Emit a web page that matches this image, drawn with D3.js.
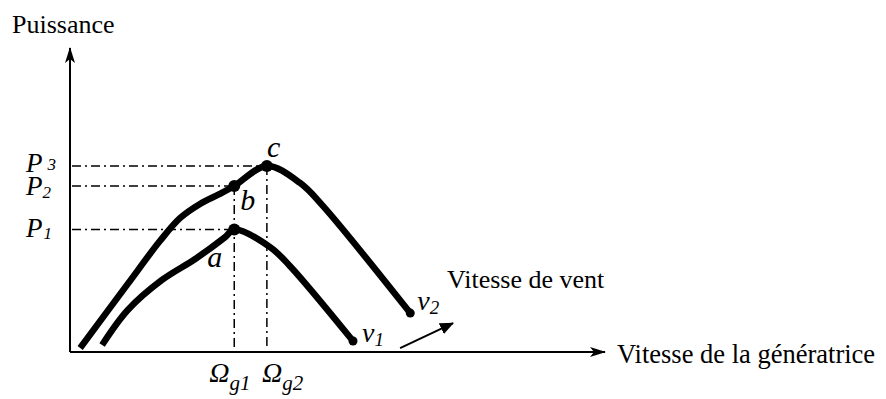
<!DOCTYPE html>
<html>
<head>
<meta charset="utf-8">
<script src="https://cdn.jsdelivr.net/npm/d3@7"></script>
<style>
  html, body { margin: 0; padding: 0; background: #fff; }
  svg { display: block; }
  text { font-family: "Liberation Serif", "Times New Roman", serif; fill: #000; }
  .it { font-style: italic; }
</style>
</head>
<body>
<svg id="chart" width="886" height="399"></svg>
<script>
// Generator speed (x) vs power (y), two wind speeds v1 < v2
const curveV2Speed = [0.19, 1.08, 1.68, 2.06, 2.43, 2.80, 3.07, 3.68, 4.30, 4.71, 6.36];
const curveV2Power = [0.13, 2.24, 3.65, 4.41, 4.87, 5.20, 5.46, 6.12, 5.56, 4.84, 1.28];
const curveV1Speed = [0.60, 1.08, 1.72, 2.34, 2.90, 3.07, 3.74, 4.11, 5.29];
const curveV1Power = [0.23, 1.38, 2.37, 3.06, 3.78, 4.03, 3.45, 2.83, 0.36];

// Operating points a, b, c
const pointNames = ["a", "b", "c"];
const pointSpeed = [3.07, 3.07, 3.68];
const pointPower = [4.03, 5.46, 6.12];

// Reference levels
const powerLevels = [4.03, 5.46, 6.12];      // P1, P2, P3
const powerLabelSub = ["1", "2", "3"];
const speedLevels = [3.07, 3.68];            // Ωg1, Ωg2
const speedLabelSub = ["g1", "g2"];

// Wind-speed arrow (from, to)
const windArrowSpeed = [6.17, 7.16];
const windArrowPower = [0.13, 0.95];

const svg = d3.select("#chart");
const x = d3.scaleLinear().domain([0, 10]).range([70, 605]);
const y = d3.scaleLinear().domain([0, 10]).range([352, 48]);

// Arrowheads
const defs = svg.append("defs");
defs.append("marker")
  .attr("id", "axisHead").attr("viewBox", "0 0 16 10")
  .attr("refX", 15).attr("refY", 5)
  .attr("markerWidth", 16).attr("markerHeight", 10)
  .attr("markerUnits", "userSpaceOnUse").attr("orient", "auto")
  .append("path").attr("d", "M0,0 L16,5 L0,10 L4,5 Z").attr("fill", "#000");
defs.append("marker")
  .attr("id", "windHead").attr("viewBox", "0 0 14 12")
  .attr("refX", 13).attr("refY", 6)
  .attr("markerWidth", 14).attr("markerHeight", 12)
  .attr("markerUnits", "userSpaceOnUse").attr("orient", "auto")
  .append("path").attr("d", "M0,0 L14,6 L0,12 Z").attr("fill", "#000");

// Axes
svg.append("line")
  .attr("x1", x(0)).attr("y1", y(0)).attr("x2", x(0)).attr("y2", y(10))
  .attr("stroke", "#000").attr("stroke-width", 2).attr("marker-end", "url(#axisHead)");
svg.append("line")
  .attr("x1", x(0)).attr("y1", y(0)).attr("x2", x(10)).attr("y2", y(0))
  .attr("stroke", "#000").attr("stroke-width", 2).attr("marker-end", "url(#axisHead)");

// Dash-dot guide lines
const dashDot = "9,4,2,4";
svg.selectAll("line.hguide").data(powerLevels).join("line")
  .attr("class", "hguide")
  .attr("x1", x(0) + 2).attr("x2", (d, i) => x(i === 2 ? pointSpeed[2] : pointSpeed[0]))
  .attr("y1", d => y(d)).attr("y2", d => y(d))
  .attr("stroke", "#000").attr("stroke-width", 1.5).attr("stroke-dasharray", dashDot);
svg.selectAll("line.vguide").data(speedLevels).join("line")
  .attr("class", "vguide")
  .attr("x1", d => x(d)).attr("x2", d => x(d))
  .attr("y1", (d, i) => y(i === 0 ? pointPower[1] : pointPower[2]))
  .attr("y2", (d, i) => i === 0 ? y(0) : y(0) - 5)
  .attr("stroke", "#000").attr("stroke-width", 1.5).attr("stroke-dasharray", dashDot);

// Power curves
const line = d3.line().x(d => x(d[0])).y(d => y(d[1])).curve(d3.curveCatmullRom.alpha(0.5));
const v2 = curveV2Speed.map((s, i) => [s, curveV2Power[i]]);
const v1 = curveV1Speed.map((s, i) => [s, curveV1Power[i]]);
[v2, v1].forEach(pts => {
  svg.append("path").attr("d", line(pts))
    .attr("fill", "none").attr("stroke", "#000").attr("stroke-width", 6.5)
    .attr("stroke-linejoin", "round");
});

// End dots
[v2, v1].forEach(pts => {
  const e = pts[pts.length - 1];
  svg.append("circle").attr("cx", x(e[0])).attr("cy", y(e[1])).attr("r", 4.5).attr("fill", "#000");
});

// Operating points
svg.selectAll("circle.op").data(pointNames).join("circle")
  .attr("class", "op")
  .attr("cx", (d, i) => x(pointSpeed[i])).attr("cy", (d, i) => y(pointPower[i]))
  .attr("r", 6).attr("fill", "#000");

// Point letters
const letterPos = { a: [-27, 38], b: [6, 24], c: [0, -9] };
svg.selectAll("text.op").data(pointNames).join("text")
  .attr("class", "op it")
  .attr("x", (d, i) => x(pointSpeed[i]) + letterPos[d][0])
  .attr("y", (d, i) => y(pointPower[i]) + letterPos[d][1])
  .attr("font-size", 30)
  .text(d => d);

// P labels
const pLabelBase = [8, 9, 6];
const pSubDy = [2, 3, -2];
const pSubDx = [1, 0, 5];
powerLevels.forEach((p, i) => {
  const t = svg.append("text").attr("class", "it")
    .attr("x", 26).attr("y", y(p) + pLabelBase[i]).attr("font-size", 27);
  t.append("tspan").text("P");
  t.append("tspan").attr("dx", pSubDx[i]).attr("dy", pSubDy[i]).attr("font-size", 17).text(powerLabelSub[i]);
});

// Ω labels
const omegaDx = [-25, -5];
speedLevels.forEach((s, i) => {
  const t = svg.append("text").attr("class", "it")
    .attr("x", x(s) + omegaDx[i]).attr("y", 382).attr("font-size", 28);
  t.append("tspan").text("Ω");
  t.append("tspan").attr("dy", 8).attr("font-size", 21).text(speedLabelSub[i]);
});

// Wind-speed labels
const vLabel = (xx, yy, sub) => {
  const t = svg.append("text").attr("class", "it")
    .attr("x", xx).attr("y", yy).attr("font-size", 28);
  t.append("tspan").text("v");
  t.append("tspan").attr("dy", 4).attr("font-size", 19).text(sub);
};
vLabel(x(curveV1Speed[curveV1Speed.length - 1]) + 9, y(curveV1Power[curveV1Power.length - 1]) + 1, "1");
vLabel(x(curveV2Speed[curveV2Speed.length - 1]) + 7, y(curveV2Power[curveV2Power.length - 1]) - 3, "2");

// Wind-speed arrow
svg.append("line")
  .attr("x1", x(windArrowSpeed[0])).attr("y1", y(windArrowPower[0]))
  .attr("x2", x(windArrowSpeed[1])).attr("y2", y(windArrowPower[1]))
  .attr("stroke", "#000").attr("stroke-width", 2).attr("marker-end", "url(#windHead)");

// Axis titles
svg.append("text").attr("x", 12).attr("y", 33).attr("font-size", 26).text("Puissance");
svg.append("text").attr("x", 617).attr("y", 363).attr("font-size", 26.5).text("Vitesse de la génératrice");
svg.append("text").attr("x", 447).attr("y", 288).attr("font-size", 26).text("Vitesse de vent");
</script>
</body>
</html>
